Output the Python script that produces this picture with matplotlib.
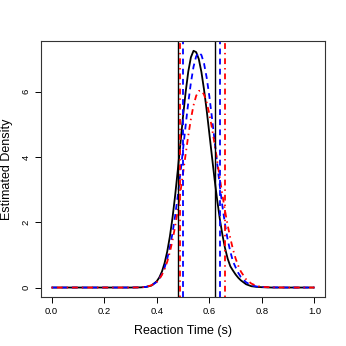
import matplotlib
matplotlib.use("Agg")
import matplotlib.pyplot as plt

x_grid = [0.00, 0.30, 0.34, 0.36, 0.38, 0.40, 0.41, 0.42, 0.43, 0.44, 0.45, 0.46,
          0.47, 0.48, 0.49, 0.50, 0.51, 0.52, 0.53, 0.54, 0.55, 0.56, 0.57, 0.58,
          0.59, 0.60, 0.61, 0.62, 0.63, 0.64, 0.65, 0.66, 0.67, 0.68, 0.69, 0.70,
          0.71, 0.72, 0.74, 0.76, 0.78, 0.80, 0.84, 0.90, 1.00]

dens_black = [0, 0, 0.005, 0.02, 0.06, 0.19, 0.31, 0.49, 0.75, 1.10, 1.56, 2.13,
              2.81, 3.58, 4.40, 5.23, 5.98, 6.61, 7.05, 7.25, 7.21, 7.00, 6.60, 6.06,
              5.43, 4.73, 4.02, 3.32, 2.68, 2.10, 1.61, 1.20, 0.88, 0.65, 0.52, 0.40,
              0.30, 0.22, 0.10, 0.04, 0.02, 0.01, 0, 0, 0]

dens_blue = [0, 0, 0.005, 0.02, 0.06, 0.17, 0.27, 0.41, 0.61, 0.88, 1.23, 1.66,
             2.19, 2.80, 3.49, 4.22, 4.96, 5.66, 6.27, 6.76, 7.08, 7.20, 7.12, 6.86,
             6.43, 5.87, 5.21, 4.51, 3.80, 3.11, 2.48, 1.93, 1.46, 1.10, 0.80, 0.62,
             0.45, 0.32, 0.16, 0.07, 0.03, 0.015, 0.005, 0, 0]

dens_red = [0, 0, 0.005, 0.02, 0.07, 0.17, 0.26, 0.39, 0.57, 0.79, 1.08, 1.44,
            1.87, 2.36, 2.91, 3.49, 4.08, 4.65, 5.16, 5.58, 5.87, 6.02, 6.03, 5.91,
            5.67, 5.32, 4.89, 4.40, 3.88, 3.35, 2.83, 2.34, 1.90, 1.51, 1.17, 0.89,
            0.67, 0.49, 0.25, 0.12, 0.05, 0.02, 0.005, 0, 0]

vlines_black = [0.481, 0.622]
vlines_blue = [0.500, 0.640]
vlines_red = [0.487, 0.658]

x_ticks = [0.0, 0.2, 0.4, 0.6, 0.8, 1.0]
x_ticklabels = ["0.0", "0.2", "0.4", "0.6", "0.8", "1.0"]
y_ticks = [0, 2, 4, 6]
y_ticklabels = ["0", "2", "4", "6"]

plt.rcParams['font.family'] = ['Liberation Sans', 'DejaVu Sans']

fig = plt.figure(figsize=(3.46, 3.46), dpi=100)
ax = fig.add_axes([41/346, 49/346, 284/346, 256/346])

lw = 1.3
dash = (0, (3.2, 2.4))
dotdash = (0, (0.8, 2.2, 3.2, 2.2))

ax.plot(x_grid, dens_black, color='black', lw=lw, solid_capstyle='butt')
ax.plot(x_grid, dens_blue, color='blue', lw=lw, linestyle=dash)
ax.plot(x_grid, dens_red, color='red', lw=lw, linestyle=dotdash)

for v in vlines_black:
    ax.axvline(v, color='black', lw=1.0)
for v in vlines_blue:
    ax.axvline(v, color='blue', lw=lw, linestyle=dash)
for v in vlines_red:
    ax.axvline(v, color='red', lw=lw, linestyle=dotdash)

ax.set_xlim(-0.04, 1.04)
ax.set_ylim(-0.29, 7.55)
ax.set_xticks(x_ticks)
ax.set_xticklabels(x_ticklabels)
ax.set_yticks(y_ticks)
ax.set_yticklabels(y_ticklabels, rotation=90, va='center')
ax.tick_params(axis='both', direction='out', length=4, width=0.7, labelsize=6.8,
               colors='black', pad=3.5)
for s in ax.spines.values():
    s.set_linewidth(0.8)
    s.set_color('#333333')

ax.set_xlabel("Reaction Time (s)", fontsize=9, labelpad=6)
ax.set_ylabel("Estimated Density", fontsize=9)
ax.yaxis.set_label_coords(-0.097, 0.5)

fig.savefig("out.png", dpi=100)
